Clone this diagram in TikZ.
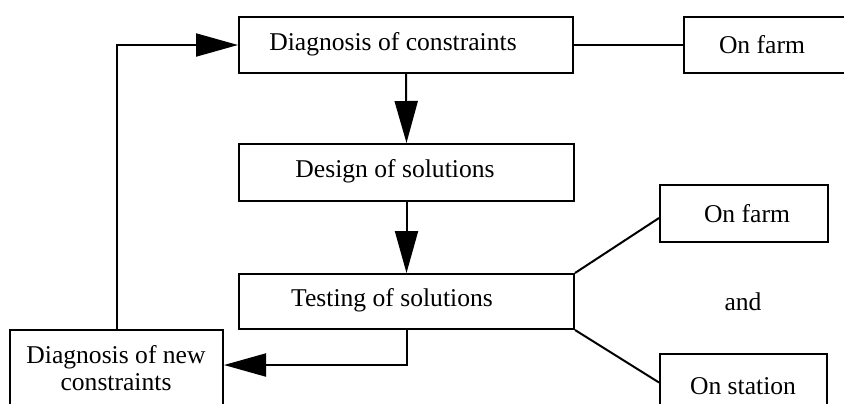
\documentclass[tikz,border=0pt]{standalone}
\usepackage{fontspec}
\setmainfont{Liberation Serif}
\usetikzlibrary{arrows.meta}
\begin{document}
\begin{tikzpicture}[x=0.5pt,y=-0.5pt,
  box/.style={draw, line width=1pt, rectangle, anchor=north west, inner sep=0pt},
  txt/.style={font=\fontsize{12.8}{13.6}\selectfont, inner sep=0pt, align=center},
  link/.style={line width=1pt},
  arr/.style={line width=1pt, -{Triangle[length=21pt,width=11.5pt]}}]
\useasboundingbox (0,0) rectangle (844,403);
\clip (0,0) rectangle (844,403);

% boxes of the main chain
\node[box, minimum width=167pt, minimum height=28pt] (b1) at (238,16) {};
\node[box, minimum width=167.5pt, minimum height=28.5pt] (b2) at (238,143) {};
\node[box, minimum width=167.5pt, minimum height=27.5pt] (b3) at (238,273) {};
\node[box, minimum width=106.5pt, minimum height=45.5pt] (b4) at (9,329) {};

% boxes on the right
\node[box, minimum width=84pt, minimum height=28pt] (f1) at (683,16) {};
\node[box, minimum width=84pt, minimum height=28.5pt] (f2) at (659,184) {};
\node[box, minimum width=83.5pt, minimum height=28.5pt] (st) at (659,353) {};

% texts
\node[txt] (t1) at (393,44) {Diagnosis of constraints};
\node[txt] (t2) at (395,171) {Design of solutions};
\node[txt] (t3) at (392,300) {Testing of solutions};
\node[txt] (t4) at (116,368) {Diagnosis of new\\constraints};
\node[txt] (t5) at (762,45) {On farm};
\node[txt] (t6) at (747,214) {On farm};
\node[txt] (t7) at (743,302) {and};
\node[txt] (t8) at (743,386) {On station};

% connectors
\draw[link] (b1.east) -- (f1.west);
\draw[arr] (b1.south) -- (b2.north);
\draw[arr] (b2.south) -- (b3.north);
\draw[link] (b3.north east) -- ([yshift=-2.25pt]f2.west);
\draw[link] (b3.south east) -- (st.west);
\draw[arr] (b3.south) |- ([yshift=5.25pt]b4.east);
\draw[arr] (b4.north) |- (b1.west);
\end{tikzpicture}
\end{document}
